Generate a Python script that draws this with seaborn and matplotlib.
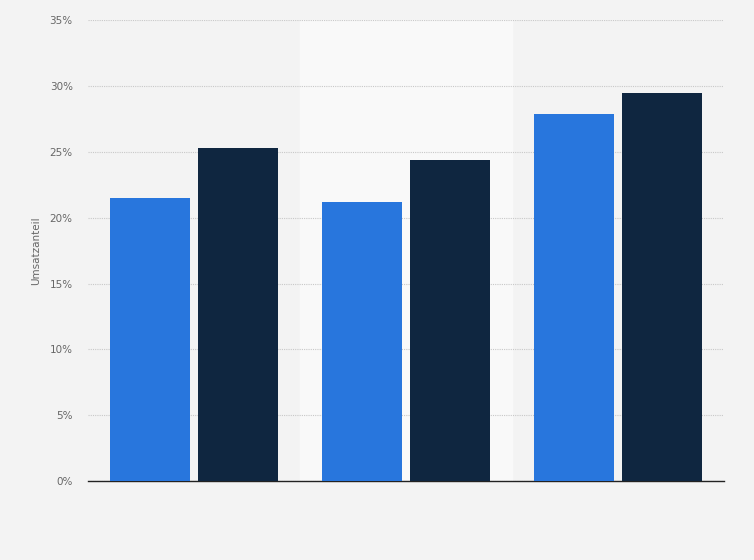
import pandas as pd
import seaborn as sns
import matplotlib
matplotlib.use('Agg')
import matplotlib.pyplot as plt
from matplotlib.ticker import FuncFormatter

# values (Umsatzanteil in %)
categories = ['Gruppe 1', 'Gruppe 2', 'Gruppe 3']
series_names = ['Serie A', 'Serie B']
serie_a = [21.5, 21.2, 27.9]
serie_b = [25.3, 24.4, 29.5]
y_ticks = [0, 5, 10, 15, 20, 25, 30, 35]

df = pd.DataFrame({
    'Kategorie': categories * 2,
    'Serie': [series_names[0]] * 3 + [series_names[1]] * 3,
    'Umsatzanteil': serie_a + serie_b,
})

sns.set_style('white')
plt.rcParams['font.family'] = ['DejaVu Sans']

fig = plt.figure(figsize=(7.54, 5.6), dpi=100, facecolor='#f3f3f3')
ax = fig.add_axes([0.1167, 0.141, 0.8435, 0.823])
ax.set_facecolor('#f3f3f3')

# lighter band behind the middle group
ax.axvspan(0.5, 1.5, color='#f9f9f9', zorder=0)

sns.barplot(data=df, x='Kategorie', y='Umsatzanteil', hue='Serie',
            palette=['#2876dd', '#0f2640'], saturation=1, width=0.83, gap=0.09,
            edgecolor='none', legend=False, ax=ax, zorder=3)

ax.set_xlim(-0.5, 2.5)
ax.set_ylim(0, 35)
ax.set_yticks(y_ticks)
ax.yaxis.set_major_formatter(FuncFormatter(lambda v, p: f'{v:.0f}%'))
ax.grid(axis='y', color='#c8c8c8', linestyle=(0, (1, 1)), linewidth=0.8, zorder=1)
ax.set_axisbelow(True)

ax.set_xticks([])
ax.set_xlabel('')
ax.set_ylabel('Umsatzanteil', fontsize=7.5, color='#666666', labelpad=6)
ax.tick_params(axis='y', length=0, labelsize=7.5, labelcolor='#666666', pad=11)

for s in ['top', 'right', 'left']:
    ax.spines[s].set_visible(False)
ax.spines['bottom'].set_color('#222222')
ax.spines['bottom'].set_linewidth(1.0)

fig.savefig('out.png', dpi=100, facecolor=fig.get_facecolor())
